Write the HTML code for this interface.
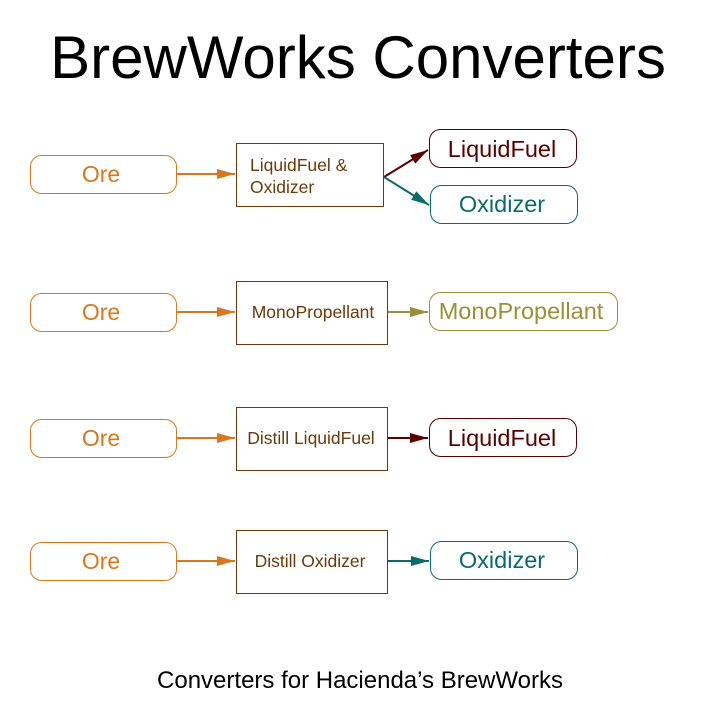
<!DOCTYPE html>
<html><head><meta charset="utf-8"><style>
html,body{margin:0;padding:0;background:#fff;}
svg{display:block;}
text{font-family:"Liberation Sans",Arial,sans-serif;}
</style></head><body>
<svg width="720" height="702" viewBox="0 0 720 702" xmlns="http://www.w3.org/2000/svg">
<defs>
<marker id="ao" markerWidth="18" markerHeight="10" refX="18" refY="5" orient="auto" markerUnits="userSpaceOnUse"><path d="M0,0 L18,5 L0,10 Z" fill="#d8781e"/></marker>
<marker id="ar" markerWidth="18" markerHeight="10" refX="18" refY="5" orient="auto" markerUnits="userSpaceOnUse"><path d="M0,0 L18,5 L0,10 Z" fill="#5a0000"/></marker>
<marker id="at" markerWidth="18" markerHeight="10" refX="18" refY="5" orient="auto" markerUnits="userSpaceOnUse"><path d="M0,0 L18,5 L0,10 Z" fill="#0a6b6b"/></marker>
<marker id="am" markerWidth="18" markerHeight="10" refX="18" refY="5" orient="auto" markerUnits="userSpaceOnUse"><path d="M0,0 L18,5 L0,10 Z" fill="#9b9038"/></marker>
</defs>
<rect width="720" height="702" fill="#fff"/>
<text x="358" y="78" font-size="60" text-anchor="middle" fill="#000">BrewWorks Converters</text>

<g fill="#fff" stroke="#d8781e" stroke-width="1">
<rect x="30.5" y="155.5" width="146" height="38" rx="11"/>
<rect x="30.5" y="293.5" width="146" height="38" rx="11"/>
<rect x="30.5" y="419.5" width="146" height="38" rx="11"/>
<rect x="30.5" y="542.5" width="146" height="38" rx="11"/>
</g>
<g font-size="23" fill="#d8781e" text-anchor="middle">
<text x="101" y="182">Ore</text>
<text x="101" y="320">Ore</text>
<text x="101" y="446">Ore</text>
<text x="101" y="569">Ore</text>
</g>
<g stroke="#d8781e" stroke-width="2" marker-end="url(#ao)">
<line x1="177" y1="174" x2="235" y2="174"/>
<line x1="177" y1="312" x2="235" y2="312"/>
<line x1="177" y1="438" x2="235" y2="438"/>
<line x1="177" y1="561" x2="235" y2="561"/>
</g>

<g fill="#fff" stroke="#6b3a0a" stroke-width="1">
<rect x="236.5" y="143.5" width="147" height="63"/>
<rect x="236.5" y="281.5" width="151" height="63"/>
<rect x="236.5" y="407.5" width="151" height="63"/>
<rect x="236.5" y="530.5" width="151" height="63"/>
</g>
<g font-size="17.5" fill="#6b3a0a">
<text x="250" y="171">LiquidFuel &amp;</text>
<text x="250" y="193">Oxidizer</text>
<text x="313" y="318" text-anchor="middle">MonoPropellant</text>
<text x="311" y="444" text-anchor="middle">Distill LiquidFuel</text>
<text x="310" y="567" text-anchor="middle">Distill Oxidizer</text>
</g>

<rect x="429.5" y="129.5" width="147" height="38" rx="11" fill="#fff" stroke="#5a0000"/>
<rect x="430.5" y="185.5" width="147" height="38" rx="11" fill="#fff" stroke="#0a6b6b"/>
<rect x="429.5" y="292.5" width="188" height="38" rx="11" fill="#fff" stroke="#9b9038"/>
<rect x="429.5" y="418.5" width="147" height="38" rx="11" fill="#fff" stroke="#5a0000"/>
<rect x="430.5" y="541.5" width="147" height="38" rx="11" fill="#fff" stroke="#0a6b6b"/>
<g font-size="23.5" text-anchor="middle">
<text x="502" y="157" fill="#5a0000">LiquidFuel</text>
<text x="502" y="212" fill="#0a6b6b">Oxidizer</text>
<text x="521" y="319" fill="#9b9038">MonoPropellant</text>
<text x="502" y="446" fill="#5a0000">LiquidFuel</text>
<text x="502" y="568" fill="#0a6b6b">Oxidizer</text>
</g>
<line x1="384" y1="177" x2="428" y2="150" stroke="#5a0000" stroke-width="2" marker-end="url(#ar)"/>
<line x1="384" y1="177" x2="429" y2="205" stroke="#0a6b6b" stroke-width="2" marker-end="url(#at)"/>
<line x1="388" y1="312" x2="428" y2="312" stroke="#9b9038" stroke-width="2" marker-end="url(#am)"/>
<line x1="388" y1="438" x2="428" y2="438" stroke="#5a0000" stroke-width="2" marker-end="url(#ar)"/>
<line x1="388" y1="561" x2="429" y2="561" stroke="#0a6b6b" stroke-width="2" marker-end="url(#at)"/>

<text x="360" y="688" font-size="24" text-anchor="middle" fill="#000">Converters for Hacienda’s BrewWorks</text>
</svg>
</body></html>
